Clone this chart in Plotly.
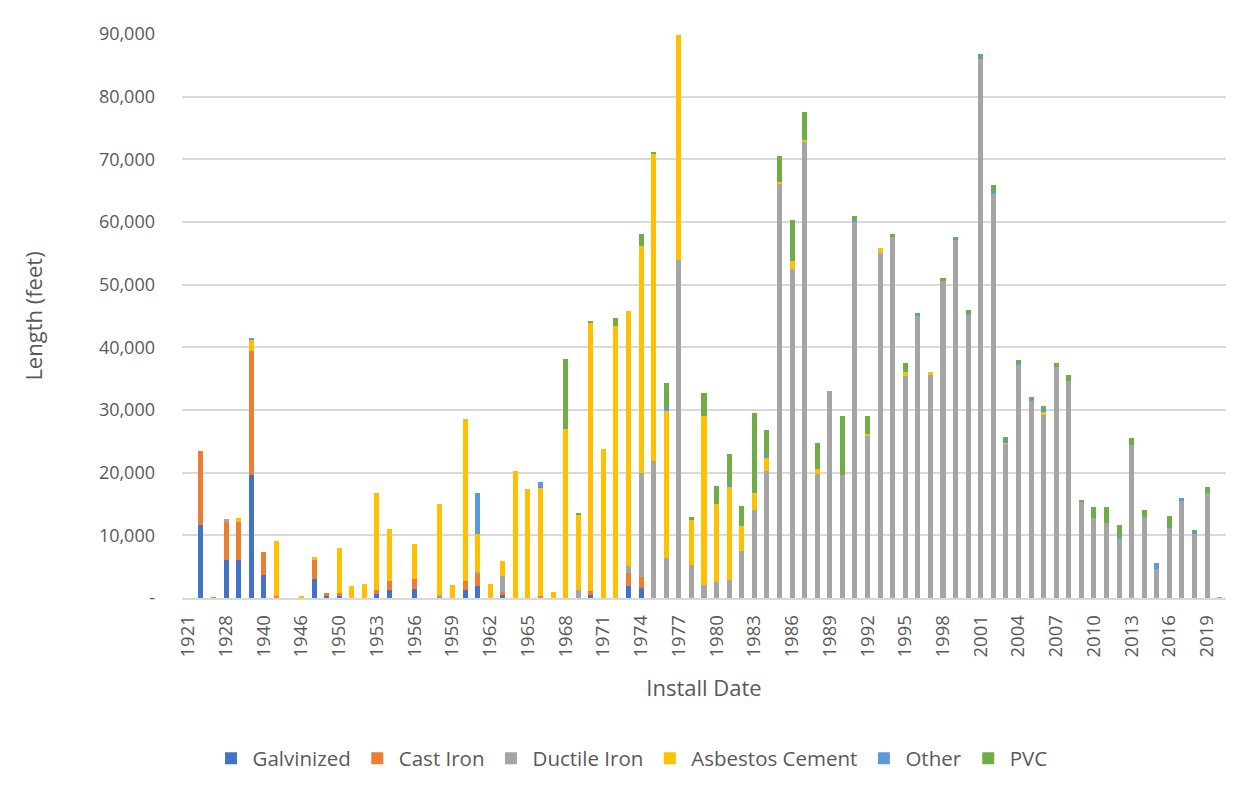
import plotly.graph_objects as go

# Install years (category axis; early years are sparse)
years = [
    "1921", "1924", "1926", "1928", "1930", "1936", "1940", "1941", "1945", "1946",
    "1947", "1948", "1950", "1951", "1952", "1953", "1954", "1955", "1956", "1957",
    "1958", "1959", "1960", "1961", "1962", "1963", "1964", "1965", "1966", "1967",
    "1968", "1969", "1970", "1971", "1972", "1973", "1974", "1975", "1976", "1977",
    "1978", "1979", "1980", "1981", "1982", "1983", "1984", "1985", "1986", "1987",
    "1988", "1989", "1990", "1991", "1992", "1993", "1994", "1995", "1996", "1997",
    "1998", "1999", "2000", "2001", "2002", "2003", "2004", "2005", "2006", "2007",
    "2008", "2009", "2010", "2011", "2012", "2013", "2014", "2015", "2016", "2017",
    "2018", "2019", "2020",
]

# Pipe length installed per year, feet
galvinized = [
    0, 11700, 0, 6000, 6100, 19700, 3600, 0, 0, 0,
    3100, 300, 350, 0, 0, 600, 1300, 0, 1500, 0,
    0, 0, 1300, 1900, 0, 500, 0, 0, 0, 0,
    0, 0, 500, 0, 0, 1900, 1650, 0, 0, 0,
    0, 0, 0, 0, 0, 0, 0, 0, 0, 0,
    0, 0, 0, 0, 0, 0, 0, 0, 0, 0,
    0, 0, 0, 0, 0, 0, 0, 0, 0, 0,
    0, 0, 0, 0, 0, 0, 0, 0, 0, 0,
    0, 0, 0,
]
cast_iron = [
    0, 11800, 150, 6100, 6100, 19650, 3750, 350, 0, 0,
    3000, 500, 400, 0, 0, 700, 1450, 0, 1600, 0,
    300, 0, 1450, 1900, 0, 500, 0, 0, 300, 0,
    0, 0, 550, 0, 0, 2150, 1750, 0, 0, 0,
    0, 0, 0, 0, 0, 0, 0, 0, 0, 0,
    0, 0, 0, 0, 0, 0, 0, 0, 0, 0,
    0, 0, 0, 0, 0, 0, 0, 0, 0, 0,
    0, 0, 0, 0, 0, 0, 0, 0, 0, 0,
    0, 0, 0,
]
ductile_iron = [
    0, 0, 0, 550, 0, 0, 0, 0, 0, 0,
    0, 0, 0, 0, 0, 0, 0, 0, 0, 0,
    200, 0, 0, 350, 0, 2450, 0, 0, 0, 0,
    0, 1200, 0, 0, 0, 1100, 16600, 21900, 6400, 53900,
    5300, 2000, 2500, 2800, 7550, 14050, 20300, 66000, 52550, 72850,
    19800, 33000, 19650, 60050, 25900, 55000, 57550, 35350, 45050, 35650,
    50700, 57200, 45200, 85950, 64600, 24650, 37300, 31400, 29200, 36850,
    34600, 15400, 12700, 11950, 9400, 24400, 12850, 4600, 11250, 15400,
    10300, 16750, 150,
]
asbestos_cement = [
    0, 0, 0, 0, 600, 1850, 0, 8750, 0, 250,
    400, 0, 7150, 1850, 2200, 15400, 8250, 0, 5550, 0,
    14450, 2100, 25800, 6000, 2200, 2450, 20200, 17400, 17200, 950,
    27000, 12150, 42850, 23750, 43450, 40650, 36100, 49050, 23500, 36000,
    7250, 27000, 12450, 14900, 3950, 2700, 2150, 450, 1150, 300,
    850, 0, 0, 0, 200, 850, 0, 650, 0, 350,
    0, 0, 0, 0, 0, 200, 0, 0, 500, 0,
    0, 0, 0, 0, 0, 0, 0, 0, 0, 0,
    0, 0, 0,
]
other = [
    0, 0, 0, 0, 0, 300, 0, 0, 0, 0,
    0, 0, 0, 0, 0, 0, 0, 0, 0, 0,
    0, 0, 0, 6550, 0, 0, 0, 0, 950, 0,
    0, 0, 0, 0, 0, 0, 0, 0, 600, 0,
    0, 0, 0, 500, 0, 0, 300, 0, 0, 0,
    0, 0, 0, 300, 0, 0, 0, 0, 400, 0,
    0, 450, 300, 450, 300, 300, 250, 400, 400, 0,
    0, 0, 0, 0, 350, 0, 0, 1050, 300, 500,
    300, 0, 0,
]
pvc = [
    0, 0, 0, 0, 0, 0, 0, 0, 0, 0,
    0, 0, 0, 0, 0, 0, 0, 0, 0, 0,
    0, 0, 0, 0, 0, 0, 0, 0, 0, 0,
    11100, 250, 300, 0, 1200, 0, 2000, 100, 3850, 0,
    300, 3700, 2900, 4800, 3250, 12700, 4100, 4100, 6650, 4450,
    4150, 0, 9350, 600, 2900, 0, 600, 1550, 0, 0,
    300, 0, 400, 400, 1050, 500, 500, 350, 600, 600,
    950, 200, 1800, 2600, 1850, 1100, 1200, 0, 1600, 0,
    150, 900, 0,
]

series = [
    ("Galvinized", galvinized, "#4472C4"),
    ("Cast Iron", cast_iron, "#ED7D31"),
    ("Ductile Iron", ductile_iron, "#A5A5A5"),
    ("Asbestos Cement", asbestos_cement, "#FFC000"),
    ("Other", other, "#5B9BD5"),
    ("PVC", pvc, "#70AD47"),
]

y_ticks = [0, 10000, 20000, 30000, 40000, 50000, 60000, 70000, 80000, 90000]
y_tick_labels = ["-" if v == 0 else f"{v:,}" for v in y_ticks]

font_family = "Open Sans, Noto Sans, sans-serif"
text_gray = "#595959"
grid_gray = "#D9D9D9"

fig = go.Figure()
for name, values, color in series:
    fig.add_trace(go.Bar(
        x=years, y=values, name=name,
        marker=dict(color=color, line=dict(width=0)),
    ))

fig.update_layout(
    barmode="stack",
    bargap=0.6,
    width=1253, height=795,
    paper_bgcolor="white", plot_bgcolor="white",
    margin=dict(l=182, r=27, t=34, b=197),
    font=dict(family=font_family, color=text_gray, size=18),
    showlegend=True,
    legend=dict(
        orientation="h",
        xref="container", yref="container",
        x=0.5036, xanchor="center",
        y=0.046, yanchor="middle",
        font=dict(size=20.5, color=text_gray),
        itemwidth=33,
        traceorder="normal",
    ),
    xaxis=dict(
        type="category",
        categoryorder="array", categoryarray=years,
        tickmode="array", tickvals=years[::3], ticktext=years[::3],
        tickangle=-90,
        tickfont=dict(size=18.5, color=text_gray),
        ticklabelstandoff=8,
        showgrid=False,
        showline=True, linecolor=grid_gray, linewidth=1.6,
        ticks="",
        title=dict(text="Install Date", font=dict(size=22, color=text_gray), standoff=24),
    ),
    yaxis=dict(
        range=[0, 90000],
        tickmode="array", tickvals=y_ticks, ticktext=y_tick_labels,
        tickfont=dict(size=18, color=text_gray),
        ticklabelstandoff=26,
        showgrid=True, gridcolor=grid_gray, gridwidth=1.6,
        zeroline=False,
        ticks="",
        title=dict(text="Length (feet)", font=dict(size=22, color=text_gray), standoff=50),
    ),
)

fig.write_html("out.html")
